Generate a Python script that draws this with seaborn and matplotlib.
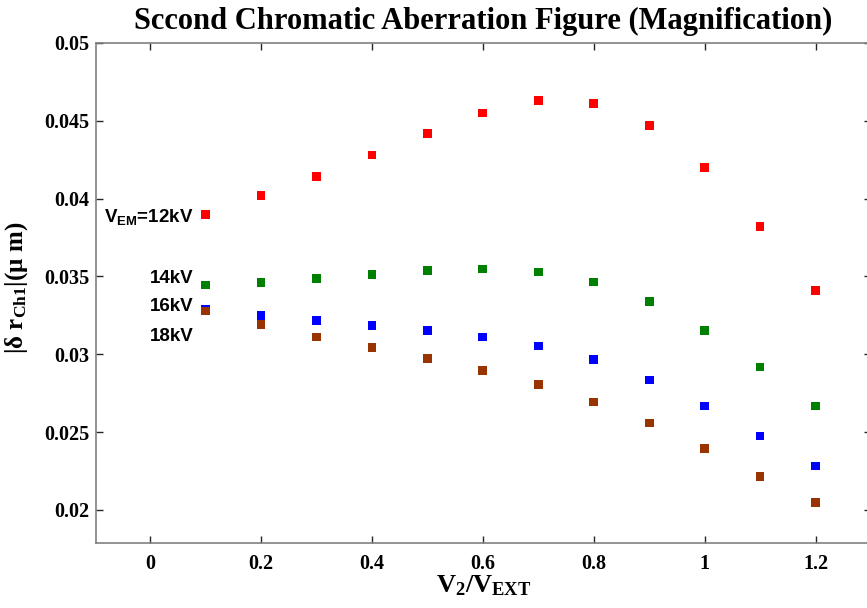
import matplotlib
matplotlib.use("Agg")
import matplotlib.pyplot as plt
import seaborn as sns
import pandas as pd

x_vals = [0.1, 0.2, 0.3, 0.4, 0.5, 0.6, 0.7, 0.8, 0.9, 1.0, 1.1, 1.2]
r12 = [0.0390, 0.0402, 0.0414, 0.0428, 0.0442, 0.0455, 0.0463, 0.0461, 0.0447, 0.0420, 0.0382, 0.0341]
r14 = [0.03445, 0.0346, 0.03486, 0.03512, 0.03537, 0.03548, 0.03529, 0.03465, 0.03341, 0.03152, 0.02919, 0.02668]
r16 = [0.0329, 0.03248, 0.03216, 0.03186, 0.03154, 0.03111, 0.03053, 0.02965, 0.02835, 0.02668, 0.02475, 0.02282]
r18 = [0.03278, 0.0319, 0.03111, 0.03043, 0.02972, 0.02897, 0.02807, 0.02694, 0.02559, 0.02396, 0.02214, 0.02047]
series_names = ["12kV", "14kV", "16kV", "18kV"]
series_colors = ["#ff0000", "#008000", "#0000ff", "#993300"]
x_ticks = [0, 0.2, 0.4, 0.6, 0.8, 1.0, 1.2]
x_tick_labels = ["0", "0.2", "0.4", "0.6", "0.8", "1", "1.2"]
y_ticks = [0.02, 0.025, 0.03, 0.035, 0.04, 0.045, 0.05]
y_tick_labels = ["0.02", "0.025", "0.03", "0.035", "0.04", "0.045", "0.05"]

rows = []
for name, vals in zip(series_names, [r12, r14, r16, r18]):
    for xv, yv in zip(x_vals, vals):
        rows.append({"x": xv, "y": yv, "V": name})
df = pd.DataFrame(rows)

sns.set_theme(style="white")
plt.rcParams["font.family"] = ["Liberation Serif", "DejaVu Serif"]
plt.rcParams["text.color"] = "black"
plt.rcParams["axes.labelcolor"] = "black"
plt.rcParams["xtick.color"] = "black"
plt.rcParams["ytick.color"] = "black"
plt.rcParams["mathtext.fontset"] = "custom"
plt.rcParams["mathtext.rm"] = "Liberation Serif:bold"
plt.rcParams["mathtext.bf"] = "Liberation Serif:bold"
plt.rcParams["mathtext.it"] = "Liberation Serif:italic:bold"
plt.rcParams["mathtext.sf"] = "Liberation Sans:bold"

W, H = 867, 608
fig = plt.figure(figsize=(W / 100, H / 100), dpi=100)
ax = fig.add_axes([96 / W, (H - 543) / H, (871 - 96) / W, 500 / H])

sns.scatterplot(data=df, x="x", y="y", hue="V", palette=series_colors,
                marker="s", s=40, edgecolor="none", legend=False, ax=ax, zorder=3)

ax.set_xlim(-0.0975, 1.3)
ax.set_ylim(0.01788, 0.05)
ax.set_xticks(x_ticks)
ax.set_xticklabels(x_tick_labels)
ax.set_yticks(y_ticks)
ax.set_yticklabels(y_tick_labels)
for lab in ax.get_xticklabels() + ax.get_yticklabels():
    lab.set_fontweight("bold")
    lab.set_fontsize(14.5)
    lab.set_color("black")
ax.tick_params(direction="in", length=5, width=1, color="#262626",
               top=True, right=True, bottom=True, left=True)
ax.tick_params(axis="x", pad=8)
ax.tick_params(axis="y", pad=5)
for sp in ax.spines.values():
    sp.set_color("#808080")
    sp.set_linewidth(1.2)

ax.set_xlabel(r"$\mathrm{V_2/V_{EXT}}$", fontsize=19, color="black")
ax.xaxis.set_label_coords(0.5, -0.06)
ax.set_ylabel(r"$|\mathrm{\delta}\ \mathrm{r_{Ch1}}|(\mathrm{\mu}\ \mathrm{m})$", fontsize=18, color="black")
ax.yaxis.set_label_coords(-0.085, 0.51)
ax.set_title("Sccond Chromatic Aberration Figure (Magnification)",
             fontsize=22, fontweight="bold", pad=10, color="black")

ann_font = dict(family="Liberation Sans", fontweight="bold", fontsize=13.5,
                ha="right", va="center", color="black")
ax.text(0.079, 0.0388, r"$\mathsf{V_{EM}}$=12kV", **ann_font)
ax.text(0.079, 0.0349, "14kV", **ann_font)
ax.text(0.079, 0.03306, "16kV", **ann_font)
ax.text(0.079, 0.03113, "18kV", **ann_font)

fig.savefig("out.png", dpi=100)
